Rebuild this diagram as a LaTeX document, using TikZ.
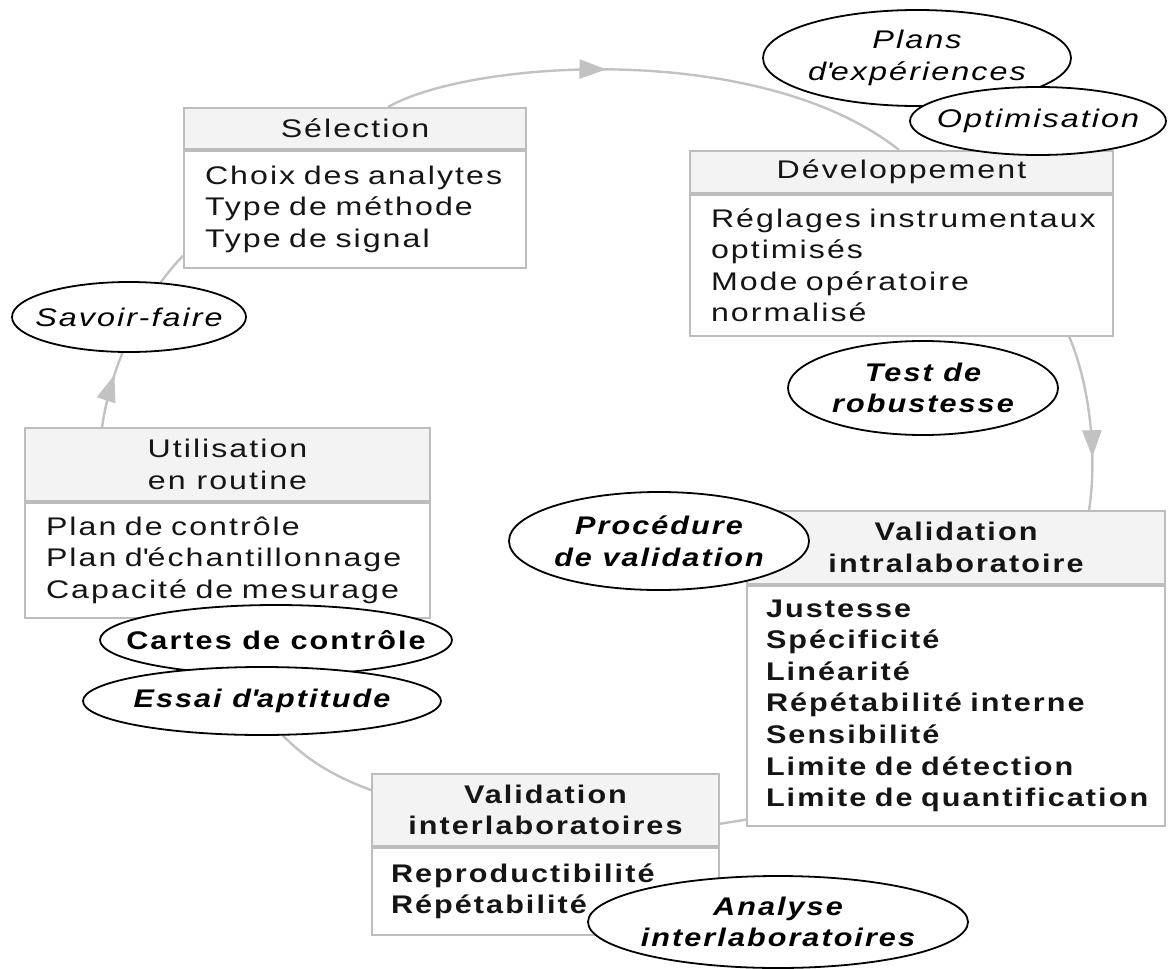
\documentclass[tikz,border=0pt]{standalone}
\usepackage{fontspec}
\setmainfont{Liberation Sans}[
  LetterSpace=8,
  UprightFeatures={FakeStretch=1.26},
  ItalicFeatures={FakeStretch=1.27},
  BoldFeatures={FakeStretch=1.2},
  BoldItalicFeatures={FakeStretch=1.2}]
\usetikzlibrary{shapes.geometric,arrows.meta,decorations.markings}

\definecolor{linegray}{HTML}{C2C2C2}
\definecolor{boxgray}{HTML}{BDBDBD}
\definecolor{headfill}{HTML}{F3F3F3}
\definecolor{ink}{HTML}{151515}

\tikzset{
  txt/.style={font=\fontsize{25.5}{31.6}\selectfont},
  boldtxt/.style={font=\fontsize{25.5}{31.6}\selectfont\bfseries},
  head/.style={txt, draw=boxgray, fill=headfill, line width=1.8pt, anchor=north,
    inner sep=0pt, align=center, text=ink},
  body/.style={txt, draw=boxgray, fill=white, line width=1.8pt, anchor=north,
    inner ysep=0pt, inner xsep=21pt, align=left, text=ink},
  bubble/.style={ellipse, draw=black, fill=white, line width=1.8pt, inner sep=0pt},
  bubtext/.style={txt, align=center, inner sep=0pt, text=black},
  conn/.style={color=linegray, line width=2.4pt},
  midarrow/.style={postaction={decorate}, decoration={markings,
    mark=at position #1 with {\arrow[linegray]{Triangle[length=27pt,width=19pt]}}}}
}

\begin{document}
\begin{tikzpicture}[x=1pt,y=-1pt]
\fill[white] (0,0) rectangle (1168,969);
\useasboundingbox (0,0) rectangle (1168,969);

% ---- stage boxes: grey header + white body ----
\node[head, minimum width=342pt, minimum height=41pt] (sel-h) at (355,107) {Sélection};
\node[body, text width=300pt, minimum height=117pt] (sel-b) at (sel-h.south)
  {Choix des analytes\\Type de méthode\\Type de signal};

\node[head, minimum width=423pt, minimum height=42pt] (dev-h) at (901.5,150) {Développement};
\node[body, text width=381pt, minimum height=141pt] (dev-b) at (dev-h.south)
  {Réglages instrumentaux\\optimisés\\Mode opératoire\\normalisé};

\node[head, minimum width=405pt, minimum height=73pt] (util-h) at (227.5,427) {Utilisation\\en routine};
\node[body, text width=363pt, minimum height=115pt] (util-b) at (util-h.south)
  {Plan de contrôle\\Plan d\textquotesingle échantillonnage\\Capacité de mesurage};

\node[head, boldtxt, minimum width=418pt, minimum height=73pt]
  (intra-h) at (956,510) {Validation\\intralaboratoire};
\node[body, boldtxt, inner xsep=19pt, text width=380pt, minimum height=240pt]
  (intra-b) at (intra-h.south)
  {Justesse\\Spécificité\\Linéarité\\Répétabilité interne\\Sensibilité\\Limite de détection\\Limite de quantification};

\node[head, boldtxt, minimum width=347pt, minimum height=72pt]
  (inter-h) at (545.5,773) {Validation\\interlaboratoires};
\node[body, boldtxt, inner xsep=19pt, text width=309pt, minimum height=87pt]
  (inter-b) at (inter-h.south) {Reproductibilité\\Répétabilité};

% ---- cycle connectors (drawn before the ellipses, which cover them) ----
\draw[conn, midarrow=0.42] ([xshift=205pt]sel-h.north west)
  .. controls (470,60) and (760,40) .. ([xshift=210pt]dev-h.north west);
\draw[conn, midarrow=0.70] ([xshift=380pt]dev-b.south west)
  .. controls (1088,380) and (1098,450) .. ([xshift=343pt]intra-h.north west);
\draw[conn] ([yshift=7pt]intra-b.south west) -- ([yshift=23pt]inter-h.south east);
\draw[conn] ([yshift=-17pt]inter-h.north west)
  .. controls (330,775) and (250,740) .. ([xshift=200pt]util-b.south west);
\draw[conn, midarrow=0.28] ([xshift=78pt]util-h.north west)
  .. controls (110,370) and (140,300) .. ([yshift=13pt]sel-b.south west);

% ---- annotation ellipses ----
\node[bubble, minimum width=308pt, minimum height=96pt] (plans) at (917,58) {};
\node[bubtext] (plans-t) at (plans) {\itshape Plans\\\itshape d\textquotesingle expériences};

\node[bubble, minimum width=256pt, minimum height=68pt] (optim) at (1038,121) {};
\node[bubtext] (optim-t) at (optim) {\itshape Optimisation};

\node[bubble, minimum width=234pt, minimum height=70pt] (savoir) at (129,317) {};
\node[bubtext] (savoir-t) at (savoir) {\itshape Savoir-faire};

\node[bubble, minimum width=270pt, minimum height=94pt] (robust) at (923,388) {};
\node[bubtext] (robust-t) at (robust) {\bfseries\itshape Test de\\\bfseries\itshape robustesse};

\node[bubble, minimum width=300pt, minimum height=98pt] (proc) at (659,541) {};
\node[bubtext] (proc-t) at (proc) {\bfseries\itshape Procédure\\\bfseries\itshape de validation};

\node[bubble, minimum width=352pt, minimum height=70pt] (cartes) at (276,640) {};
\node[bubtext] (cartes-t) at (cartes) {\bfseries Cartes de contrôle};

\node[bubble, minimum width=358pt, minimum height=68pt] (essai) at (262,701) {};
\node[bubtext] (essai-t) at (essai) {\bfseries\itshape Essai d\textquotesingle aptitude};

\node[bubble, minimum width=380pt, minimum height=92pt] (analyse) at (778,922) {};
\node[bubtext] (analyse-t) at (analyse) {\bfseries\itshape Analyse\\\bfseries\itshape interlaboratoires};
\end{tikzpicture}
\end{document}
